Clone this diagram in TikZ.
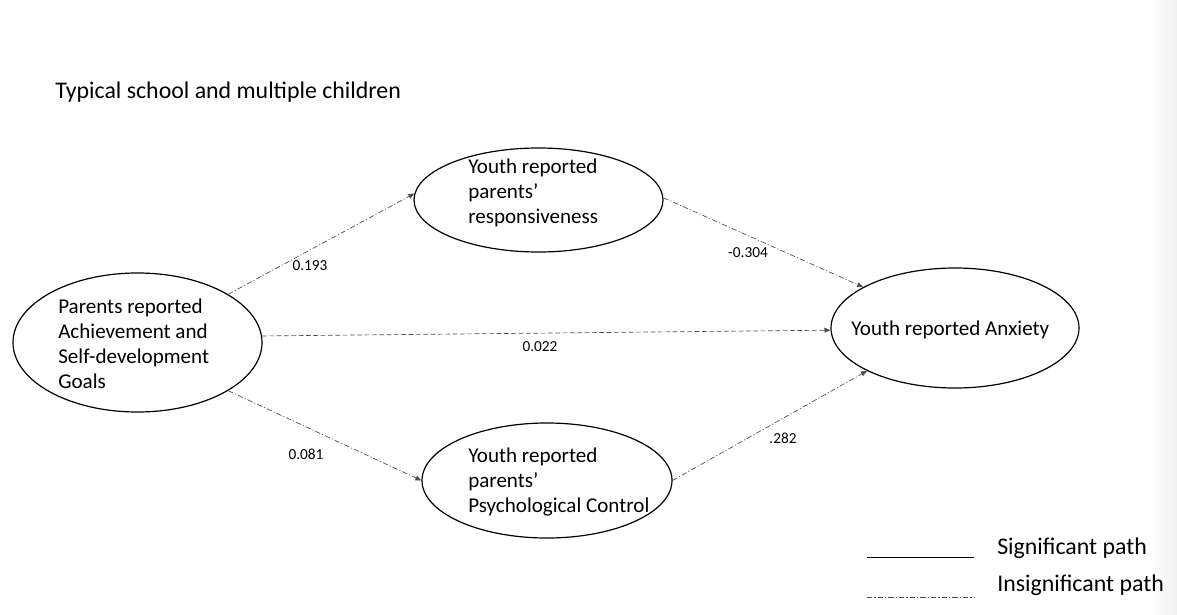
\documentclass[tikz,border=0pt]{standalone}
\usepackage{fontspec}
\setmainfont{Carlito}
\usetikzlibrary{shapes.geometric,arrows.meta}
\begin{document}
\begin{tikzpicture}[x=0.75pt,y=-0.75pt,
  construct/.style={draw=black,line width=0.9pt,ellipse,inner sep=0pt},
  ctext/.style={inner sep=0pt,anchor=west,align=left,font=\fontsize{15.8}{18.75}\selectfont},
  coef/.style={inner sep=0pt,font=\fontsize{11.5}{13}\selectfont},
  bigtext/.style={inner sep=0pt,anchor=west,font=\fontsize{17.9}{21}\selectfont},
  insig/.style={draw=black!70,line width=0.5pt,
    dash pattern=on 4pt off 1.6pt on 0.8pt off 1.6pt},
  insigdash/.style={draw=black!70,line width=0.5pt,dash pattern=on 3.5pt off 2pt},
  sig/.style={draw=black,line width=0.6pt},
  tip/.style={-{Triangle[length=4.5pt,width=3.6pt]}}]

% canvas
\fill[white] (0,0) rectangle (1177,614);
\useasboundingbox (0,0) rectangle (1177,614);
\shade[left color=white,right color=black!6] (1150,0) rectangle (1177,614);

% title
\node[bigtext] (title) at (55,92) {Typical school and multiple children};

% constructs
\node[construct,minimum width=186.75pt,minimum height=104.25pt] (goals) at (137.5,342.5) {};
\node[construct,minimum width=186.75pt,minimum height=78pt] (resp) at (538.5,200) {};
\node[construct,minimum width=187.5pt,minimum height=86.25pt] (psy) at (547,480.5) {};
\node[construct,minimum width=186pt,minimum height=90pt] (anx) at (955,328) {};

\node[ctext] (goalsT) at (58,343.5) {Parents reported\\Achievement and\\Self-development\\Goals};
\node[ctext] (respT) at (468,192.5) {Youth reported\\parents’\\responsiveness};
\node[ctext] (psyT) at (468,482) {Youth reported\\parents’\\Psychological Control};
\node[ctext] (anxT) at (851,330) {Youth reported Anxiety};

% paths
\draw[insig,tip] (goals.28.7) -- (resp.177.7);
\draw[insigdash,tip] (goals.3.9) -- (anx.181.5);
\draw[insig,tip] (goals.-28.9) -- (psy.180);
\draw[insig,tip] (resp.1.4) -- (anx.156.3);
\draw[insig,tip] (psy.0) -- (anx.206.6);

% coefficients
\node[coef] (c1) at (310,266) {0.193};
\node[coef] (c2) at (540,347) {0.022};
\node[coef] (c3) at (306,454) {0.081};
\node[coef] (c4) at (748,253) {-0.304};
\node[coef] (c5) at (783,438) {.282};

% legend
\coordinate (s1) at (867,557);
\coordinate (s2) at (974,557);
\coordinate (i1) at (867,597);
\coordinate (i2) at (974,597);
\draw[sig] (s1) -- (s2);
\draw[insig] (i1) -- (i2);
\node[bigtext] (sigT) at (997,548) {Significant path};
\node[bigtext] (insT) at (997,585) {Insignificant path};
\end{tikzpicture}
\end{document}
